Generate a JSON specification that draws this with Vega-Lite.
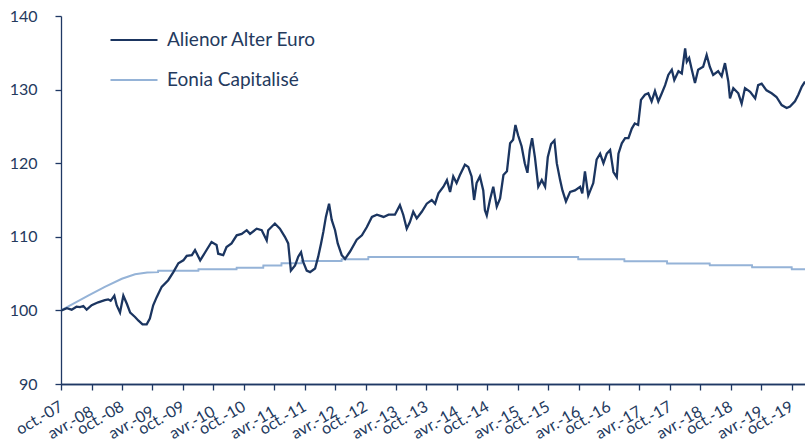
{
  "$schema": "https://vega.github.io/schema/vega-lite/v6.json",
  "width": 744,
  "height": 368,
  "autosize": {"type": "none"},
  "padding": {"left": 61, "top": 16, "right": 0, "bottom": 57},
  "config": {
    "view": {"stroke": null},
    "font": "Lato",
    "axis": {
      "grid": false,
      "title": null,
      "domainColor": "#1f3864",
      "domainWidth": 1.3,
      "tickColor": "#1f3864",
      "tickWidth": 1.3,
      "tickSize": 6,
      "labelFont": "Lato",
      "labelFontSize": 16,
      "labelColor": "#243a5e",
      "labelOverlap": false,
      "labelFlush": false
    }
  },
  "datasets": {
    "a": [
      {"d": "2007-10-01", "v": 100.0},
      {"d": "2007-10-05", "v": 100.0},
      {"d": "2007-11-05", "v": 100.3},
      {"d": "2007-12-04", "v": 100.1},
      {"d": "2008-01-02", "v": 100.5},
      {"d": "2008-01-23", "v": 100.45},
      {"d": "2008-02-12", "v": 100.6},
      {"d": "2008-03-03", "v": 100.1},
      {"d": "2008-04-02", "v": 100.7},
      {"d": "2008-05-11", "v": 101.1},
      {"d": "2008-06-20", "v": 101.4},
      {"d": "2008-07-10", "v": 101.5},
      {"d": "2008-07-25", "v": 101.3},
      {"d": "2008-08-16", "v": 102.0},
      {"d": "2008-08-30", "v": 100.7},
      {"d": "2008-09-19", "v": 99.7},
      {"d": "2008-10-09", "v": 102.0},
      {"d": "2008-10-30", "v": 100.9},
      {"d": "2008-11-19", "v": 99.7},
      {"d": "2008-12-18", "v": 99.1},
      {"d": "2009-01-08", "v": 98.6},
      {"d": "2009-02-01", "v": 98.1},
      {"d": "2009-02-26", "v": 98.1},
      {"d": "2009-03-17", "v": 98.9},
      {"d": "2009-04-06", "v": 100.7},
      {"d": "2009-04-27", "v": 101.8},
      {"d": "2009-05-27", "v": 103.2},
      {"d": "2009-07-05", "v": 104.1},
      {"d": "2009-08-05", "v": 105.2},
      {"d": "2009-09-04", "v": 106.4},
      {"d": "2009-10-04", "v": 106.8},
      {"d": "2009-10-24", "v": 107.4},
      {"d": "2009-11-24", "v": 107.5},
      {"d": "2009-12-13", "v": 108.2},
      {"d": "2010-01-13", "v": 106.8},
      {"d": "2010-02-12", "v": 107.9},
      {"d": "2010-03-22", "v": 109.3},
      {"d": "2010-04-21", "v": 108.9},
      {"d": "2010-05-01", "v": 107.7},
      {"d": "2010-05-31", "v": 107.5},
      {"d": "2010-06-20", "v": 108.6},
      {"d": "2010-07-20", "v": 109.1},
      {"d": "2010-08-20", "v": 110.2},
      {"d": "2010-09-19", "v": 110.4},
      {"d": "2010-10-19", "v": 110.9},
      {"d": "2010-11-08", "v": 110.4},
      {"d": "2010-12-18", "v": 111.1},
      {"d": "2011-01-17", "v": 110.9},
      {"d": "2011-02-16", "v": 109.5},
      {"d": "2011-02-25", "v": 110.9},
      {"d": "2011-04-06", "v": 111.8},
      {"d": "2011-05-06", "v": 111.1},
      {"d": "2011-06-05", "v": 110.0},
      {"d": "2011-06-25", "v": 109.1},
      {"d": "2011-07-11", "v": 105.4},
      {"d": "2011-08-05", "v": 106.1},
      {"d": "2011-08-24", "v": 107.3},
      {"d": "2011-09-10", "v": 107.9},
      {"d": "2011-09-23", "v": 106.6},
      {"d": "2011-10-14", "v": 105.4},
      {"d": "2011-11-03", "v": 105.2},
      {"d": "2011-12-03", "v": 105.7},
      {"d": "2011-12-22", "v": 107.3},
      {"d": "2012-01-08", "v": 109.1},
      {"d": "2012-01-22", "v": 110.7},
      {"d": "2012-02-06", "v": 112.7},
      {"d": "2012-02-25", "v": 114.5},
      {"d": "2012-03-12", "v": 112.3},
      {"d": "2012-04-01", "v": 110.9},
      {"d": "2012-04-17", "v": 109.1},
      {"d": "2012-05-11", "v": 107.5},
      {"d": "2012-05-31", "v": 107.0},
      {"d": "2012-06-30", "v": 108.0},
      {"d": "2012-08-09", "v": 109.6},
      {"d": "2012-09-09", "v": 110.2},
      {"d": "2012-10-08", "v": 111.3},
      {"d": "2012-11-08", "v": 112.7},
      {"d": "2012-12-08", "v": 113.0},
      {"d": "2013-01-17", "v": 112.7},
      {"d": "2013-02-16", "v": 113.0},
      {"d": "2013-03-26", "v": 113.0},
      {"d": "2013-04-25", "v": 114.3},
      {"d": "2013-05-15", "v": 113.0},
      {"d": "2013-06-05", "v": 111.1},
      {"d": "2013-06-24", "v": 112.0},
      {"d": "2013-07-14", "v": 113.4},
      {"d": "2013-08-04", "v": 112.5},
      {"d": "2013-09-03", "v": 113.4},
      {"d": "2013-10-03", "v": 114.5},
      {"d": "2013-11-02", "v": 115.0},
      {"d": "2013-11-22", "v": 114.5},
      {"d": "2013-12-12", "v": 115.9},
      {"d": "2014-01-11", "v": 116.8},
      {"d": "2014-02-01", "v": 117.7},
      {"d": "2014-02-20", "v": 116.1},
      {"d": "2014-03-11", "v": 118.2},
      {"d": "2014-03-31", "v": 117.3},
      {"d": "2014-04-20", "v": 118.4},
      {"d": "2014-05-20", "v": 119.8},
      {"d": "2014-06-09", "v": 119.5},
      {"d": "2014-06-29", "v": 118.2},
      {"d": "2014-07-14", "v": 115.0},
      {"d": "2014-07-29", "v": 117.3},
      {"d": "2014-08-18", "v": 118.2},
      {"d": "2014-09-07", "v": 116.3},
      {"d": "2014-09-17", "v": 113.6},
      {"d": "2014-09-28", "v": 112.9},
      {"d": "2014-10-17", "v": 115.0},
      {"d": "2014-11-06", "v": 116.8},
      {"d": "2014-11-27", "v": 114.1},
      {"d": "2014-12-17", "v": 115.2},
      {"d": "2015-01-06", "v": 118.4},
      {"d": "2015-01-27", "v": 118.9},
      {"d": "2015-02-15", "v": 122.7},
      {"d": "2015-03-05", "v": 123.2},
      {"d": "2015-03-19", "v": 125.2},
      {"d": "2015-04-04", "v": 123.8},
      {"d": "2015-04-25", "v": 122.3},
      {"d": "2015-05-14", "v": 120.0},
      {"d": "2015-05-30", "v": 118.7},
      {"d": "2015-06-13", "v": 121.8},
      {"d": "2015-06-27", "v": 123.4},
      {"d": "2015-07-14", "v": 120.8},
      {"d": "2015-08-03", "v": 116.8},
      {"d": "2015-08-24", "v": 117.7},
      {"d": "2015-09-13", "v": 116.8},
      {"d": "2015-09-29", "v": 120.8},
      {"d": "2015-10-19", "v": 122.6},
      {"d": "2015-11-08", "v": 123.1},
      {"d": "2015-11-22", "v": 120.0},
      {"d": "2015-12-12", "v": 117.7},
      {"d": "2015-12-26", "v": 116.3},
      {"d": "2016-01-16", "v": 114.8},
      {"d": "2016-02-10", "v": 116.1},
      {"d": "2016-03-10", "v": 116.3},
      {"d": "2016-04-10", "v": 116.8},
      {"d": "2016-04-23", "v": 115.9},
      {"d": "2016-05-09", "v": 118.9},
      {"d": "2016-05-29", "v": 115.6},
      {"d": "2016-06-28", "v": 117.3},
      {"d": "2016-07-18", "v": 120.5},
      {"d": "2016-08-08", "v": 121.3},
      {"d": "2016-08-28", "v": 120.0},
      {"d": "2016-09-17", "v": 121.3},
      {"d": "2016-10-07", "v": 121.8},
      {"d": "2016-10-27", "v": 118.8},
      {"d": "2016-11-16", "v": 118.1},
      {"d": "2016-11-26", "v": 121.3},
      {"d": "2016-12-16", "v": 122.7},
      {"d": "2017-01-05", "v": 123.4},
      {"d": "2017-01-25", "v": 123.4},
      {"d": "2017-02-14", "v": 124.7},
      {"d": "2017-03-04", "v": 125.4},
      {"d": "2017-03-24", "v": 125.2},
      {"d": "2017-04-10", "v": 128.6},
      {"d": "2017-05-04", "v": 129.3},
      {"d": "2017-05-24", "v": 129.5},
      {"d": "2017-06-13", "v": 128.4},
      {"d": "2017-07-03", "v": 129.8},
      {"d": "2017-07-23", "v": 128.4},
      {"d": "2017-08-13", "v": 129.5},
      {"d": "2017-09-02", "v": 130.6},
      {"d": "2017-09-21", "v": 132.0},
      {"d": "2017-10-12", "v": 132.7},
      {"d": "2017-10-27", "v": 131.3},
      {"d": "2017-11-21", "v": 132.5},
      {"d": "2017-12-11", "v": 132.2},
      {"d": "2017-12-31", "v": 135.6},
      {"d": "2018-01-10", "v": 133.8},
      {"d": "2018-01-24", "v": 134.3},
      {"d": "2018-02-09", "v": 132.7},
      {"d": "2018-02-28", "v": 130.9},
      {"d": "2018-03-19", "v": 132.7},
      {"d": "2018-04-18", "v": 133.1},
      {"d": "2018-05-09", "v": 134.7},
      {"d": "2018-05-28", "v": 133.1},
      {"d": "2018-06-17", "v": 132.0},
      {"d": "2018-07-17", "v": 132.5},
      {"d": "2018-08-07", "v": 131.8},
      {"d": "2018-08-27", "v": 133.6},
      {"d": "2018-09-16", "v": 131.1},
      {"d": "2018-09-26", "v": 128.8},
      {"d": "2018-10-16", "v": 130.2},
      {"d": "2018-11-15", "v": 129.5},
      {"d": "2018-12-05", "v": 128.1},
      {"d": "2018-12-25", "v": 130.2},
      {"d": "2019-01-25", "v": 129.7},
      {"d": "2019-02-24", "v": 128.8},
      {"d": "2019-03-14", "v": 130.6},
      {"d": "2019-04-04", "v": 130.8},
      {"d": "2019-05-03", "v": 129.9},
      {"d": "2019-06-03", "v": 129.5},
      {"d": "2019-07-02", "v": 129.0},
      {"d": "2019-08-02", "v": 127.9},
      {"d": "2019-09-01", "v": 127.5},
      {"d": "2019-09-21", "v": 127.7},
      {"d": "2019-10-21", "v": 128.4},
      {"d": "2019-11-10", "v": 129.3},
      {"d": "2019-12-01", "v": 130.4},
      {"d": "2019-12-20", "v": 131.1}
    ],
    "b": [
      {"d": "2007-10-01", "v": 100.0},
      {"d": "2008-03-12", "v": 102.0},
      {"d": "2008-06-20", "v": 103.2},
      {"d": "2008-09-30", "v": 104.3},
      {"d": "2008-12-18", "v": 104.9},
      {"d": "2009-03-01", "v": 105.15},
      {"d": "2009-05-05", "v": 105.2},
      {"d": "2009-05-06", "v": 105.4},
      {"d": "2010-01-02", "v": 105.4},
      {"d": "2010-01-03", "v": 105.6},
      {"d": "2010-08-19", "v": 105.6},
      {"d": "2010-08-20", "v": 105.8},
      {"d": "2011-01-26", "v": 105.8},
      {"d": "2011-01-27", "v": 106.1},
      {"d": "2011-05-15", "v": 106.1},
      {"d": "2011-05-16", "v": 106.4},
      {"d": "2011-09-13", "v": 106.4},
      {"d": "2011-09-14", "v": 106.7},
      {"d": "2012-05-10", "v": 106.7},
      {"d": "2012-05-11", "v": 106.95},
      {"d": "2012-10-17", "v": 106.95},
      {"d": "2012-10-18", "v": 107.25},
      {"d": "2016-03-29", "v": 107.25},
      {"d": "2016-03-30", "v": 106.95},
      {"d": "2016-12-31", "v": 106.95},
      {"d": "2017-01-01", "v": 106.68},
      {"d": "2017-09-13", "v": 106.68},
      {"d": "2017-09-14", "v": 106.36},
      {"d": "2018-05-27", "v": 106.36},
      {"d": "2018-05-28", "v": 106.13},
      {"d": "2019-02-05", "v": 106.13},
      {"d": "2019-02-06", "v": 105.86},
      {"d": "2019-10-01", "v": 105.86},
      {"d": "2019-10-02", "v": 105.59},
      {"d": "2019-12-20", "v": 105.59}
    ]
  },
  "layer": [
    {
      "data": {"name": "b"},
      "mark": {"type": "line", "strokeWidth": 2},
      "encoding": {
        "x": {
          "field": "d",
          "type": "temporal",
          "scale": {"domain": [{"year": 2007, "month": 10, "date": 1, "utc": true}, {"year": 2019, "month": 12, "date": 20, "utc": true}]},
          "axis": {
            "orient": "bottom",
            "values": [
              {"year": 2008, "month": 4, "date": 1, "utc": true},
              {"year": 2009, "month": 4, "date": 1, "utc": true},
              {"year": 2010, "month": 4, "date": 1, "utc": true},
              {"year": 2011, "month": 4, "date": 1, "utc": true},
              {"year": 2012, "month": 4, "date": 1, "utc": true},
              {"year": 2013, "month": 4, "date": 1, "utc": true},
              {"year": 2014, "month": 4, "date": 1, "utc": true},
              {"year": 2015, "month": 4, "date": 1, "utc": true},
              {"year": 2016, "month": 4, "date": 1, "utc": true},
              {"year": 2017, "month": 4, "date": 1, "utc": true},
              {"year": 2018, "month": 4, "date": 1, "utc": true},
              {"year": 2019, "month": 4, "date": 1, "utc": true}
            ],
            "labelExpr": "'avr.-' + utcFormat(datum.value, '%y')",
            "labelAngle": -30,
            "labelAlign": "right",
            "labelBaseline": "middle",
            "labelPadding": 20
          }
        },
        "y": {
          "field": "v",
          "type": "quantitative",
          "scale": {"domain": [90, 140]},
          "axis": {"values": [90, 95, 100, 105, 110, 115, 120, 125, 130, 135, 140], "labelPadding": 18}
        },
        "color": {
          "datum": "Eonia Capitalisé",
          "type": "nominal",
          "scale": {"domain": ["Alienor Alter Euro", "Eonia Capitalisé"], "range": ["#1b3560", "#95b3d7"]},
          "legend": {
            "orient": "none",
            "legendX": 60,
            "legendY": 11,
            "title": null,
            "direction": "vertical",
            "symbolType": "M-2,0H2",
            "symbolSize": 552,
            "symbolStrokeWidth": 2,
            "labelFont": "Lato",
            "labelFontSize": 19,
            "labelColor": "#243a5e",
            "labelOffset": 20,
            "labelLimit": 400,
            "rowPadding": 17
          }
        }
      }
    },
    {
      "data": {"name": "a"},
      "mark": {"type": "line", "strokeWidth": 2.3},
      "encoding": {
        "x": {
          "field": "d",
          "type": "temporal",
          "scale": {"domain": [{"year": 2007, "month": 10, "date": 1, "utc": true}, {"year": 2019, "month": 12, "date": 20, "utc": true}]},
          "axis": {
            "orient": "bottom",
            "values": [
              {"year": 2007, "month": 10, "date": 1, "utc": true},
              {"year": 2008, "month": 10, "date": 1, "utc": true},
              {"year": 2009, "month": 10, "date": 1, "utc": true},
              {"year": 2010, "month": 10, "date": 1, "utc": true},
              {"year": 2011, "month": 10, "date": 1, "utc": true},
              {"year": 2012, "month": 10, "date": 1, "utc": true},
              {"year": 2013, "month": 10, "date": 1, "utc": true},
              {"year": 2014, "month": 10, "date": 1, "utc": true},
              {"year": 2015, "month": 10, "date": 1, "utc": true},
              {"year": 2016, "month": 10, "date": 1, "utc": true},
              {"year": 2017, "month": 10, "date": 1, "utc": true},
              {"year": 2018, "month": 10, "date": 1, "utc": true},
              {"year": 2019, "month": 10, "date": 1, "utc": true}
            ],
            "labelExpr": "'oct.-' + utcFormat(datum.value, '%y')",
            "labelAngle": -30,
            "labelAlign": "right",
            "labelBaseline": "middle",
            "labelPadding": 15
          }
        },
        "y": {
          "field": "v",
          "type": "quantitative",
          "scale": {"domain": [90, 140]}
        },
        "color": {
          "datum": "Alienor Alter Euro",
          "type": "nominal"
        }
      }
    }
  ],
  "resolve": {"axis": {"x": "independent"}}
}
